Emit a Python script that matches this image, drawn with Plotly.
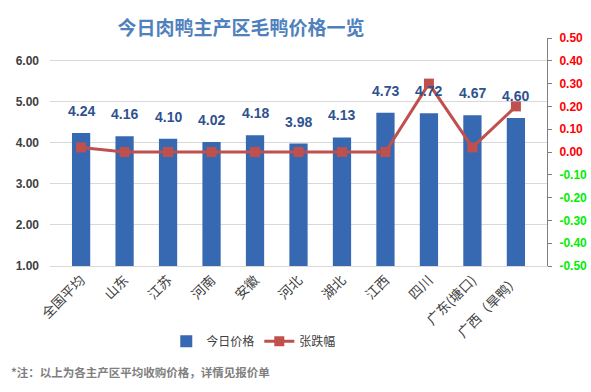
import plotly.graph_objects as go

categories = ["全国平均", "山东", "江苏", "河南", "安徽", "河北", "湖北", "江西", "四川", "广东(塘口)", "广西（旱鸭）"]
price = [4.24, 4.16, 4.10, 4.02, 4.18, 3.98, 4.13, 4.73, 4.72, 4.67, 4.60]
change = [0.02, 0.00, 0.00, 0.00, 0.00, 0.00, 0.00, 0.00, 0.30, 0.02, 0.20]
left_ticks = [1, 2, 3, 4, 5, 6]
right_ticks = [0.5, 0.4, 0.3, 0.2, 0.1, 0.0, -0.1, -0.2, -0.3, -0.4, -0.5]

FONT = "'Liberation Sans', Arial, 'Noto Sans CJK SC', sans-serif"
CJK = "'Noto Sans CJK SC', sans-serif"

right_text = [
    f'<span style="color:{"#ff0000" if v >= 0 else "#00ee00"}">{v:.2f}</span>'
    for v in right_ticks
]

fig = go.Figure()
fig.add_trace(go.Bar(
    x=categories, y=price, name="今日价格",
    marker=dict(color="#3769b2", line=dict(width=0)),
    width=0.42,
    yaxis="y",
))
fig.add_trace(go.Scatter(
    x=categories, y=change, name="张跌幅", mode="lines+markers",
    line=dict(color="#c0504d", width=3),
    marker=dict(symbol="square", size=10, color="#c0504d"),
    yaxis="y2",
))
for c, v in zip(categories, price):
    fig.add_annotation(x=c, y=v, xref="x", yref="y", text=f"<b>{v:.2f}</b>",
                       showarrow=False, yshift=22, yanchor="middle",
                       font=dict(size=14, color="#2f528f", family=FONT))

fig.update_layout(
    width=591, height=392,
    margin=dict(l=50, r=44, t=38, b=126, autoexpand=False),
    paper_bgcolor="white", plot_bgcolor="white",
    font=dict(family=FONT, color="#404040"),
    title=dict(text="<b>今日肉鸭主产区毛鸭价格一览</b>", x=0.408, xanchor="center",
               y=0.928, yanchor="middle",
               font=dict(size=19, color="#4f81bd", family=CJK)),
    xaxis=dict(tickangle=-45, tickfont=dict(size=13.5, color="#404040", family=CJK),
               showgrid=False, showline=True, linecolor="#d9d9d9", linewidth=1, ticks="",
               automargin=False),
    yaxis=dict(range=[1, 6.55], tickvals=left_ticks, tickformat=".2f",
               tickfont=dict(size=12, color="#404040", weight="bold"), showgrid=True,
               gridcolor="#d9d9d9", gridwidth=1, zeroline=False, showline=False,
               ticklabelstandoff=10, automargin=False),
    yaxis2=dict(range=[-0.5, 0.5], overlaying="y", side="right", tickvals=right_ticks,
                ticktext=right_text, tickfont=dict(size=12, weight="bold"),
                showgrid=False, zeroline=False,
                showline=True, linecolor="#808080", linewidth=1, ticks="outside",
                ticklen=4, tickcolor="#808080", ticklabelstandoff=5, automargin=False),
    legend=dict(orientation="h", x=0.41, xanchor="center", y=-0.33, yanchor="middle",
                font=dict(size=12, color="#404040", family=CJK),
                bgcolor="rgba(0,0,0,0)"),
    showlegend=True,
)
fig.add_annotation(
    text="<b>*注：以上为各主产区平均收购价格，详情见报价单</b>",
    xref="paper", yref="paper", x=-0.082, y=-0.465, xanchor="left", yanchor="middle",
    showarrow=False, font=dict(size=11.5, color="#7f7f7f", family=CJK),
)
fig.write_html("out.html", config={"displayModeBar": False},
               post_script="document.body.style.margin='0';")
